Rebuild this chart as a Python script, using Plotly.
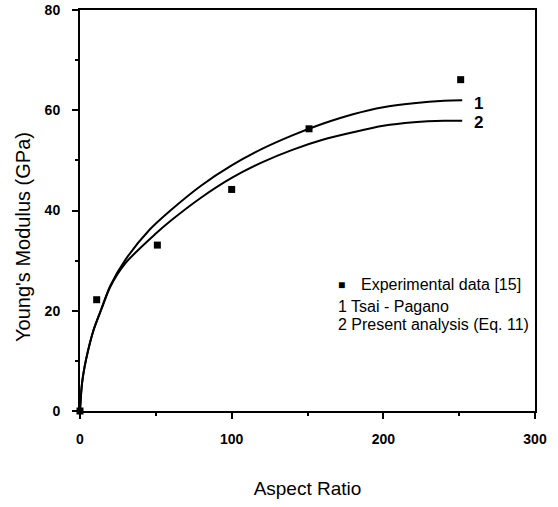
import plotly.graph_objects as go

# Experimental data [15]
exp_x = [0, 11, 51, 100, 151, 251]
exp_y = [0, 22.2, 33.1, 44.2, 56.3, 66.1]

# Curve 1: Tsai - Pagano
tp_x = [0, 1, 2, 4, 9, 14, 20, 30, 46, 60, 80, 100, 120, 140, 160, 180, 200, 220, 240, 252]
tp_y = [0, 4.5, 7, 10.3, 16.2, 20.3, 25.0, 30.2, 36.2, 40.1, 45.0, 49.0, 52.3, 55.0, 57.3, 59.2, 60.6, 61.4, 61.9, 62.0]

# Curve 2: Present analysis (Eq. 11)
pa_x = [0, 1, 2, 4, 9, 14, 20, 30, 50, 60, 80, 100, 120, 140, 160, 180, 200, 220, 240, 252]
pa_y = [0, 4.5, 7, 10.3, 16.2, 20.2, 24.8, 29.5, 35.4, 38.0, 42.6, 46.5, 49.6, 52.1, 54.1, 55.6, 56.9, 57.6, 57.9, 57.9]

x_ticks = [0, 100, 200, 300]
y_ticks = [0, 20, 40, 60, 80]

FONT = "Liberation Sans, Arial, sans-serif"

fig = go.Figure()
fig.add_trace(go.Scatter(x=tp_x, y=tp_y, mode="lines", line=dict(color="black", width=2, shape="spline", smoothing=0.8), showlegend=False))
fig.add_trace(go.Scatter(x=pa_x, y=pa_y, mode="lines", line=dict(color="black", width=2, shape="spline", smoothing=0.8), showlegend=False))
fig.add_trace(go.Scatter(x=exp_x, y=exp_y, mode="markers", marker=dict(symbol="square", size=7, color="black"), showlegend=False, cliponaxis=False))

axis_common = dict(
    showgrid=False, zeroline=False, showline=True, linecolor="black", linewidth=2,
    mirror=True, ticks="outside", ticklen=6, tickwidth=2, tickcolor="black",
    tickfont=dict(family=FONT, size=14, color="black", weight="bold"),
)

fig.update_xaxes(
    range=[0, 300], tickvals=x_ticks, ticktext=[str(v) for v in x_ticks],
    minor=dict(dtick=50, ticks="outside", ticklen=3, tickwidth=2, tickcolor="black"),
    title=dict(text="Aspect Ratio", font=dict(family=FONT, size=19, color="black"), standoff=36),
    ticklabelstandoff=8,
    **axis_common,
)
fig.update_yaxes(
    range=[0, 80], tickvals=y_ticks, ticktext=[str(v) for v in y_ticks],
    minor=dict(dtick=10, ticks="outside", ticklen=3, tickwidth=2, tickcolor="black"),
    ticklabelstandoff=9,
    **axis_common,
)

ann_font = dict(family=FONT, size=16, color="black")
annotations = [
    dict(x=262.7, y=61.4, text="1", font=dict(family=FONT, size=17, color="black", weight="bold")),
    dict(x=262.7, y=57.5, text="2", font=dict(family=FONT, size=17, color="black", weight="bold")),
    dict(x=172.7, y=25.2, text="■", font=dict(family=FONT, size=12, color="black")),
    dict(x=184.1, y=25.2, text="Experimental data [15]", xanchor="left", font=ann_font),
    dict(x=169.0, y=20.8, text="1 Tsai - Pagano", xanchor="left", font=ann_font),
    dict(x=169.0, y=17.3, text="2 Present analysis (Eq. 11)", xanchor="left", font=ann_font),
]
for a in annotations:
    a.setdefault("xanchor", "center")
    a.update(xref="x", yref="y", showarrow=False, yanchor="middle")
annotations.append(dict(
    xref="paper", yref="paper", x=-0.124, y=0.433, text="Young's Modulus (GPa)",
    textangle=-90, showarrow=False, xanchor="center", yanchor="middle",
    font=dict(family=FONT, size=20, color="black"),
))
fig.update_layout(
    width=558, height=507,
    margin=dict(l=79.5, r=22.5, t=9.5, b=96, autoexpand=False),
    plot_bgcolor="white", paper_bgcolor="white",
    annotations=annotations,
    font=dict(family=FONT, color="black"),
)
fig.write_html("out.html")
